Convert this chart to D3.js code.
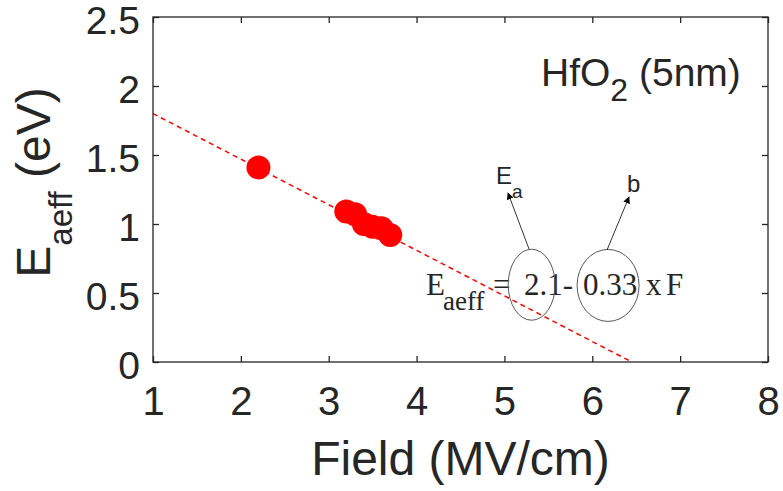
<!DOCTYPE html>
<html>
<head>
<meta charset="utf-8">
<script src="https://cdn.jsdelivr.net/npm/d3@7"></script>
<style>
  html, body { margin: 0; padding: 0; background: #fff; }
  svg { display: block; }
  text { font-family: Arial, "Liberation Sans", Helvetica, sans-serif; fill: #262626; }
</style>
</head>
<body>
<svg id="chart" width="783" height="491"></svg>
<script>
// ---- data ----
const fieldValues = [2.2, 3.2, 3.3, 3.4, 3.5, 3.6, 3.7];
const energyValues = [1.41, 1.09, 1.07, 1.00, 0.98, 0.97, 0.92];
const fitField = [1, 6.45];
const fitEnergy = [1.80, 0];
const xTickValues = [1, 2, 3, 4, 5, 6, 7, 8];
const yTickValues = [0, 0.5, 1, 1.5, 2, 2.5];
const yTickLabels = ["0", "0.5", "1", "1.5", "2", "2.5"];
// annotation anchors in data units
const ellipseCenters = [[5.31, 0.56], [6.18, 0.555]];

const W = 783, H = 491;
const margin = { left: 153, right: 15, top: 17, bottom: 129 };
const svg = d3.select("#chart");
const x = d3.scaleLinear().domain([1, 8]).range([margin.left, W - margin.right]);
const y = d3.scaleLinear().domain([0, 2.5]).range([H - margin.bottom, margin.top]);
const axisColor = "#262626";
const tickLen = 6;

// fit line
svg.append("path")
  .datum(fitField.map((f, i) => [f, fitEnergy[i]]))
  .attr("d", d3.line().x(d => x(d[0])).y(d => y(d[1])))
  .attr("fill", "none")
  .attr("stroke", "#ff0000")
  .attr("stroke-width", 1.5)
  .attr("stroke-dasharray", "5,4");

// points
svg.append("g").selectAll("circle")
  .data(fieldValues.map((f, i) => [f, energyValues[i]]))
  .join("circle")
  .attr("cx", d => x(d[0]))
  .attr("cy", d => y(d[1]))
  .attr("r", 12)
  .attr("fill", "#ff0000");

// axes (box with inward ticks)
const axG = svg.append("g");
axG.append("rect")
  .attr("x", x(1)).attr("y", y(2.5))
  .attr("width", x(8) - x(1)).attr("height", y(0) - y(2.5))
  .attr("fill", "none").attr("stroke", axisColor).attr("stroke-width", 1.3);

const bottomAxis = d3.axisBottom(x).tickValues(xTickValues).tickSize(-tickLen).tickFormat(d3.format("d")).tickPadding(0);
const gb = axG.append("g").attr("transform", `translate(0,${y(0)})`).call(bottomAxis);
const topAxis = d3.axisTop(x).tickValues(xTickValues).tickSize(-tickLen).tickFormat("");
const gt = axG.append("g").attr("transform", `translate(0,${y(2.5)})`).call(topAxis);
const leftAxis = d3.axisLeft(y).tickValues(yTickValues).tickSize(-tickLen).tickFormat((d, i) => yTickLabels[i]);
const gl = axG.append("g").attr("transform", `translate(${x(1)},0)`).call(leftAxis);
const rightAxis = d3.axisRight(y).tickValues(yTickValues).tickSize(-tickLen).tickFormat("");
const gr = axG.append("g").attr("transform", `translate(${x(8)},0)`).call(rightAxis);

[gb, gt, gl, gr].forEach(g => {
  g.select(".domain").remove();
  g.selectAll(".tick line").attr("stroke", axisColor).attr("stroke-width", 1.3);
});
gb.selectAll(".tick text")
  .attr("y", 53).attr("dy", null)
  .attr("font-size", 40).attr("fill", axisColor)
  .style("font-family", "Arial, 'Liberation Sans', sans-serif");
gl.selectAll(".tick text")
  .attr("x", -13).attr("dy", "0.37em")
  .attr("transform", "translate(0,2)")
  .attr("font-size", 39).attr("fill", axisColor)
  .style("font-family", "Arial, 'Liberation Sans', sans-serif");

// axis labels
svg.append("text")
  .attr("x", (x(1) + x(8)) / 2).attr("y", 475)
  .attr("text-anchor", "middle").attr("font-size", 48)
  .text("Field (MV/cm)");

const yl = svg.append("text")
  .attr("transform", `translate(50,${(y(0) + y(2.5)) / 2 - 7}) rotate(-90)`)
  .attr("text-anchor", "middle").attr("font-size", 48);
yl.append("tspan").text("E");
yl.append("tspan").attr("font-size", 33).attr("dy", 22).text("aeff");
yl.append("tspan").attr("dy", -22).text(" (eV)");

// title annotation
const tt = svg.append("text").attr("x", 541).attr("y", 86).attr("font-size", 39).attr("fill", "#000");
tt.append("tspan").text("HfO");
tt.append("tspan").attr("font-size", 32).attr("dy", 15).text("2");
tt.append("tspan").attr("dy", -15).text(" (5nm)");

// equation annotation
const serif = "'Liberation Serif', 'Times New Roman', serif";
const eq = svg.append("text").attr("y", 295).attr("font-size", 31)
  .style("font-family", serif).attr("fill", "#000");
eq.append("tspan").attr("x", 426).text("E");
eq.append("tspan").attr("x", 443).attr("font-size", 27).attr("dy", 15).text("aeff");
eq.append("tspan").attr("x", 493).attr("dy", -15).text("=");
eq.append("tspan").attr("x", 524).text("2.1-");
eq.append("tspan").attr("x", 583).text("0.33");
eq.append("tspan").attr("x", 646).text("x");
eq.append("tspan").attr("x", 666).text("F");

// ellipses
const ellipseR = [[23.5, 35.5], [31, 36]];
svg.append("g").selectAll("ellipse")
  .data(ellipseCenters)
  .join("ellipse")
  .attr("cx", d => x(d[0])).attr("cy", d => y(d[1]))
  .attr("rx", (d, i) => ellipseR[i][0]).attr("ry", (d, i) => ellipseR[i][1])
  .attr("fill", "none").attr("stroke", "#595959").attr("stroke-width", 1);

// arrows
const defs = svg.append("defs");
defs.append("marker").attr("id", "ah").attr("viewBox", "0 0 10 10")
  .attr("refX", 9).attr("refY", 5).attr("markerWidth", 7).attr("markerHeight", 7)
  .attr("markerUnits", "userSpaceOnUse").attr("orient", "auto")
  .append("path").attr("d", "M0,0 L10,5 L0,10 z").attr("fill", "#000");
const arrows = [[[529, 249], [508, 193]], [[607, 250], [629, 197]]];
svg.append("g").selectAll("line").data(arrows).join("line")
  .attr("x1", d => d[0][0]).attr("y1", d => d[0][1])
  .attr("x2", d => d[1][0]).attr("y2", d => d[1][1])
  .attr("stroke", "#000").attr("stroke-width", 0.8)
  .attr("marker-end", "url(#ah)");

const ea = svg.append("text").attr("x", 496).attr("y", 184).attr("font-size", 24).attr("fill", "#000");
ea.append("tspan").text("E");
ea.append("tspan").attr("font-size", 19).attr("dy", 14).text("a");
svg.append("text").attr("x", 627).attr("y", 192).attr("font-size", 24).attr("fill", "#000").text("b");
</script>
</body>
</html>
